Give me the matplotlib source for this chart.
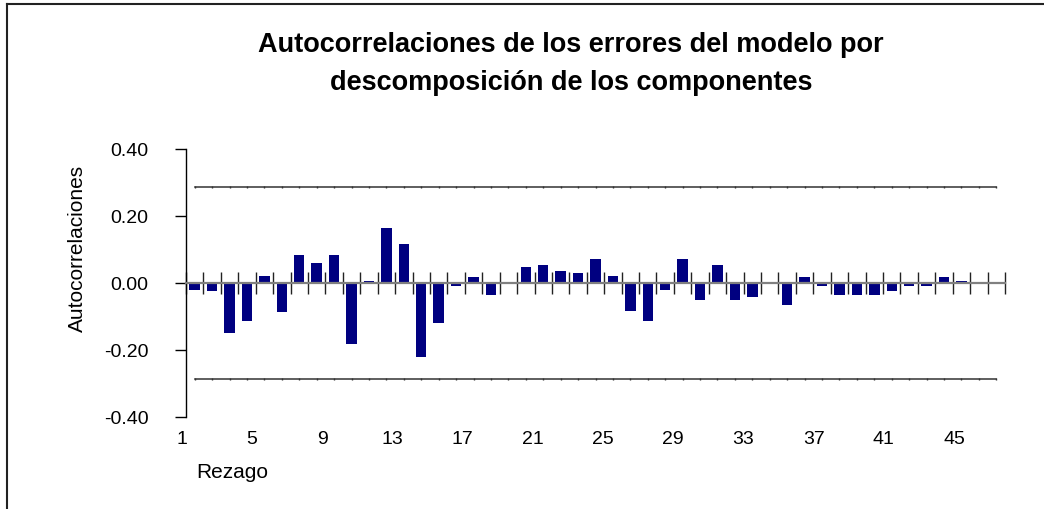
import matplotlib
matplotlib.use("Agg")
import matplotlib.pyplot as plt
from matplotlib.lines import Line2D
import numpy as np

plt.rcParams['font.family'] = ['Liberation Sans', 'DejaVu Sans']

# Autocorrelaciones de los errores por rezago (1..47)
rezagos = np.arange(1, 48)
autocorr = [-0.020, -0.025, -0.150, -0.112, 0.022, -0.088, 0.085, 0.061, 0.085, -0.183,
            0.007, 0.165, 0.117, -0.222, -0.120, -0.010, 0.017, -0.035, 0.000, 0.048,
            0.055, 0.037, 0.031, 0.071, 0.022, -0.083, -0.112, -0.020, 0.071, -0.050,
            0.055, -0.050, -0.043, 0.000, -0.065, 0.017, -0.010, -0.035, -0.035, -0.035,
            -0.025, -0.010, -0.010, 0.017, 0.007, 0.000, 0.000]
limite = 0.2857  # banda de confianza 2/sqrt(n)
etiquetas_x = [1, 5, 9, 13, 17, 21, 25, 29, 33, 37, 41, 45]
ticks_y = [-0.40, -0.20, 0.00, 0.20, 0.40]

W, H = 1044, 510
fig = plt.figure(figsize=(W / 100, H / 100), dpi=100)
ax = fig.add_axes([186 / W, 1 - 418 / H, 819 / W, 268 / H])

ax.bar(rezagos, autocorr, width=0.6, color='#000080', zorder=3)
ax.plot(rezagos, [limite] * len(rezagos), color='#333333', lw=1.1,
        marker='|', markersize=2, zorder=2)
ax.plot(rezagos, [-limite] * len(rezagos), color='#333333', lw=1.1,
        marker='|', markersize=2, zorder=2)

ax.set_xlim(0.5, 47.5)
ax.set_ylim(-0.40, 0.40)

# eje y
ax.set_yticks(ticks_y)
ax.set_yticklabels(['%.2f' % v for v in ticks_y])
ax.tick_params(axis='y', direction='out', length=8, width=1, pad=19,
               labelsize=14, color='black')
ax.spines['left'].set_color('black')
ax.spines['left'].set_linewidth(1)

# eje x en cero, con marcas entre categorias
ax.spines['bottom'].set_position(('data', 0))
ax.spines['bottom'].set_color('#808080')
ax.spines['bottom'].set_linewidth(1.6)
ax.spines['bottom'].set_zorder(4)
ax.set_xticks(np.append(rezagos - 0.5, rezagos[-1] + 0.5))
ax.tick_params(axis='x', direction='inout', length=16, width=1,
               color='#222222', labelbottom=False)
ax.spines['top'].set_visible(False)
ax.spines['right'].set_visible(False)

# etiquetas del eje x (Excel las corre un poco a la izquierda)
for k in etiquetas_x:
    ax.text(k - 0.75 + 0.0074 * (k - 1), -0.464, str(k), ha='center', va='center',
            fontsize=14, transform=ax.transData, clip_on=False)

fig.text(232 / W, 1 - 473 / H, 'Rezago', ha='center', va='center', fontsize=15)
fig.text(77 / W, 1 - 248 / H, 'Autocorrelaciones', ha='center', va='center',
         rotation=90, fontsize=15)

fig.text(571 / W, 1 - 45 / H, 'Autocorrelaciones de los errores del modelo por',
         ha='center', va='center', fontsize=19.5, fontweight='bold')
fig.text(571 / W, 1 - 83 / H, 'descomposición de los componentes',
         ha='center', va='center', fontsize=19.5, fontweight='bold')

# marco del grafico
fig.add_artist(Line2D([7 / W, 7 / W], [0, 1 - 5 / H], color='#222222', lw=1.5))
fig.add_artist(Line2D([7 / W, 1], [1 - 5 / H, 1 - 5 / H], color='#222222', lw=1.5))

fig.savefig('out.png', dpi=100)
